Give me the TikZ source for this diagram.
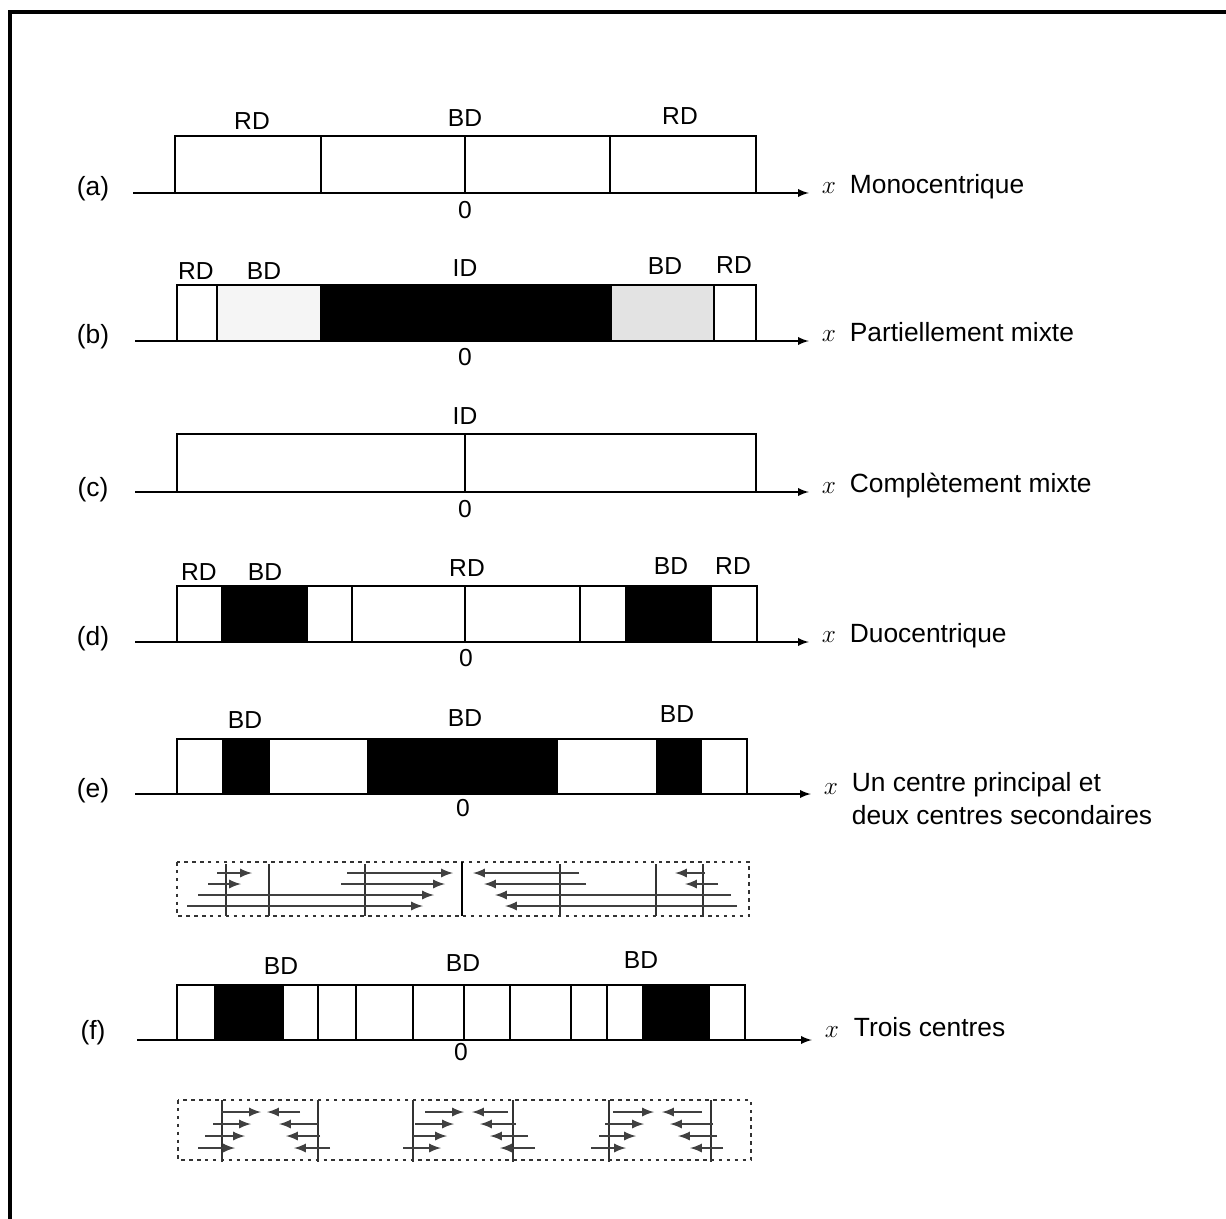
\documentclass[tikz,border=0pt]{standalone}
\usepackage{fontspec}
\setmainfont{Liberation Sans}
\usetikzlibrary{arrows}

\begin{document}
\begin{tikzpicture}[x=0.02cm,y=-0.02cm,>=latex,line width=1pt,
  zone/.style={font=\fontsize{14}{16}\selectfont,inner sep=0pt},
  tag/.style={font=\fontsize{15}{18}\selectfont,inner sep=0pt,anchor=base},
  caption/.style={font=\fontsize{15}{18}\selectfont,inner sep=0pt,anchor=base west},
  xlab/.style={font=\fontsize{15}{18}\selectfont,inner xsep=7pt,inner ysep=0pt,anchor=base},
  axis/.style={->,line width=1.1pt},
  flow/.style={->,line width=1.3pt,black!75},
  flowbox/.style={dash pattern=on 2pt off 2.5pt,line width=1.4pt,black!80}]
\useasboundingbox (0,0) rectangle (1226,1219);
\draw[line width=1.8pt] (10,1219) -- (10,12) -- (1226,12);

% (a) monocentrique
\draw (175,136) rectangle (756,193);
\foreach \d in {321,465,610} \draw (\d,136) -- (\d,193);
\node[zone] (RDa1) at (252,121) {RD};
\node[zone] (BDa) at (465,118) {BD};
\node[zone] (RDa2) at (680,116) {RD};
\node[zone] (Oa) at (465,210) {0};
\node[tag] (ta) at (93,196) {(a)};
\coordinate (a0) at (133,193);
\node[xlab] (xa) at (829,194) {$x$};
\draw[axis] (a0) -- (a0 -| xa.west);
\node[caption] (ca) at (849,194) {Monocentrique};

% (b) partiellement mixte
\fill[gray!8] (217,285) rectangle (321,341);
\fill[black] (321,285) rectangle (611,341);
\fill[gray!22] (611,285) rectangle (714,341);
\draw (177,285) rectangle (756,341);
\foreach \d in {217,321,611,714} \draw (\d,285) -- (\d,341);
\node[zone] (RDb1) at (196,271) {RD};
\node[zone] (BDb1) at (264,271) {BD};
\node[zone] (IDb) at (465,268) {ID};
\node[zone] (BDb2) at (665,266) {BD};
\node[zone] (RDb2) at (734,265) {RD};
\node[zone] (Ob) at (465,357) {0};
\node[tag] (tb) at (93,344) {(b)};
\coordinate (b0) at (135,341);
\node[xlab] (xb) at (829,342) {$x$};
\draw[axis] (b0) -- (b0 -| xb.west);
\node[caption] (cb) at (849,342) {Partiellement mixte};

% (c) completement mixte
\draw (177,434) rectangle (756,492);
\draw (465,434) -- (465,492);
\node[zone] (IDc) at (465,416) {ID};
\node[zone] (Oc) at (465,509) {0};
\node[tag] (tc) at (93,496) {(c)};
\coordinate (c0) at (135,492);
\node[xlab] (xc) at (829,493) {$x$};
\draw[axis] (c0) -- (c0 -| xc.west);
\node[caption] (cc) at (849,492) {Complètement mixte};

% (d) duocentrique
\foreach \l/\r in {222/307,626/711} \fill[black] (\l,586) rectangle (\r,642);
\draw (177,586) rectangle (757,642);
\foreach \d in {222,307,352,465,580,626,711} \draw (\d,586) -- (\d,642);
\node[zone] (RDd1) at (199,572) {RD};
\node[zone] (BDd1) at (265,572) {BD};
\node[zone] (RDd) at (467,568) {RD};
\node[zone] (BDd2) at (671,566) {BD};
\node[zone] (RDd2) at (733,566) {RD};
\node[zone] (Od) at (466,658) {0};
\node[tag] (td) at (93,645) {(d)};
\coordinate (d0) at (135,642);
\node[xlab] (xd) at (829,642) {$x$};
\draw[axis] (d0) -- (d0 -| xd.west);
\node[caption] (cd) at (849,642) {Duocentrique};

% (e) un centre principal
\foreach \l/\r in {222/270,367/558,656/702} \fill[black] (\l,739) rectangle (\r,794);
\draw (177,739) rectangle (747,794);
\node[zone] (BDe1) at (245,720) {BD};
\node[zone] (BDe) at (465,718) {BD};
\node[zone] (BDe2) at (677,714) {BD};
\node[zone] (Oe) at (463,808) {0};
\node[tag] (te) at (93,797) {(e)};
\coordinate (e0) at (135,794);
\node[xlab] (xe) at (831,794) {$x$};
\draw[axis] (e0) -- (e0 -| xe.west);
\node[caption] (ce1) at (851,791) {Un centre principal et};
\node[caption] (ce2) at (851,824) {deux centres secondaires};

% flux (e)
\draw[flowbox] (177,862) rectangle (749,916);
\foreach \d in {226,269,365,560,656,703} \draw[black!80] (\d,864) -- (\d,916);
\draw[line width=1.6pt] (462,862) -- (462,916);
\foreach \a/\b/\y in {217/252/873,208/241/884,347/453/873,341/445/884,198/434/895,187/423/906,
  579/473/873,586/484/884,731/495/895,737/505/906,705/675/873,718/685/884}
  \draw[flow] (\a,\y) -- (\b,\y);

% (f) trois centres
\foreach \l/\r in {215/283,643/709} \fill[black] (\l,985) rectangle (\r,1040);
\draw (177,985) rectangle (745,1040);
\foreach \d in {215,283,318,356,413,464,510,571,607,643,709} \draw (\d,985) -- (\d,1040);
\node[zone] (BDf1) at (281,966) {BD};
\node[zone] (BDf) at (463,963) {BD};
\node[zone] (BDf2) at (641,960) {BD};
\node[zone] (Of) at (461,1052) {0};
\node[tag] (tf) at (93,1039) {(f)};
\coordinate (f0) at (137,1040);
\node[xlab] (xf) at (832,1037) {$x$};
\draw[axis] (f0) -- (f0 -| xf.west);
\node[caption] (cf) at (853,1036) {Trois centres};

% flux (f)
\draw[flowbox] (178,1100) rectangle (751,1160);
\foreach \d in {222,318,413,513,609,711} \draw[black!80] (\d,1100) -- (\d,1162);
\foreach \a/\b/\y in {221/261/1112,213/251/1124,205/245/1136,198/235/1148,
  300/267/1112,318/279/1124,320/286/1136,330/294/1148,
  425/464/1112,415/454/1124,413/447/1136,403/441/1148,
  508/472/1112,516/480/1124,528/490/1136,535/500/1148,
  613/654/1112,605/644/1124,599/636/1136,591/626/1148,
  702/662/1112,713/670/1124,717/678/1136,723/690/1148}
  \draw[flow] (\a,\y) -- (\b,\y);
\end{tikzpicture}
\end{document}
